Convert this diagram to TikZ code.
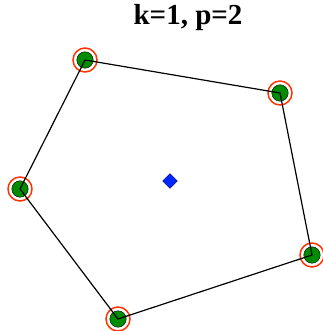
\documentclass[tikz,border=0pt]{standalone}
\usepackage{fontspec}
\setmainfont{Liberation Serif}
\usetikzlibrary{shapes.geometric}

\tikzset{
  vtx/.style={circle, draw=black, line width=0.4pt, fill=green!55!black, minimum size=16.5pt, inner sep=0pt},
  ring/.style={draw=red!80!yellow, line width=1.5pt},
  edge/.style={draw=black, line width=1.2pt},
  cen/.style={diamond, draw=blue!40!black, line width=0.4pt, fill=blue!85!cyan, minimum size=15pt, inner sep=0pt}
}

\begin{document}
\begin{tikzpicture}[x=1pt, y=-1pt]
\useasboundingbox (0,0) rectangle (322,331);
% --- title ---
\node[font=\bfseries\fontsize{29}{32}\selectfont] (title) at (188,18) {k=1, p=2};
% --- rings round the vertices ---
\foreach \x/\y in {85/60, 280/93, 312/255, 118/319, 20/189} {
  \draw[ring] (\x,\y) circle (12);
}
% --- vertices ---
\node[vtx] (v1) at (85,60) {};
\node[vtx] (v2) at (280,93) {};
\node[vtx] (v3) at (312,255) {};
\node[vtx] (v4) at (118,319) {};
\node[vtx] (v5) at (20,189) {};
% --- polygon ---
\draw[edge] (v1.center) -- (v2.center) -- (v3.center) -- (v4.center) -- (v5.center) -- (v1.center);
% --- centre ---
\node[cen] (c) at (170,181) {};
\end{tikzpicture}
\end{document}
